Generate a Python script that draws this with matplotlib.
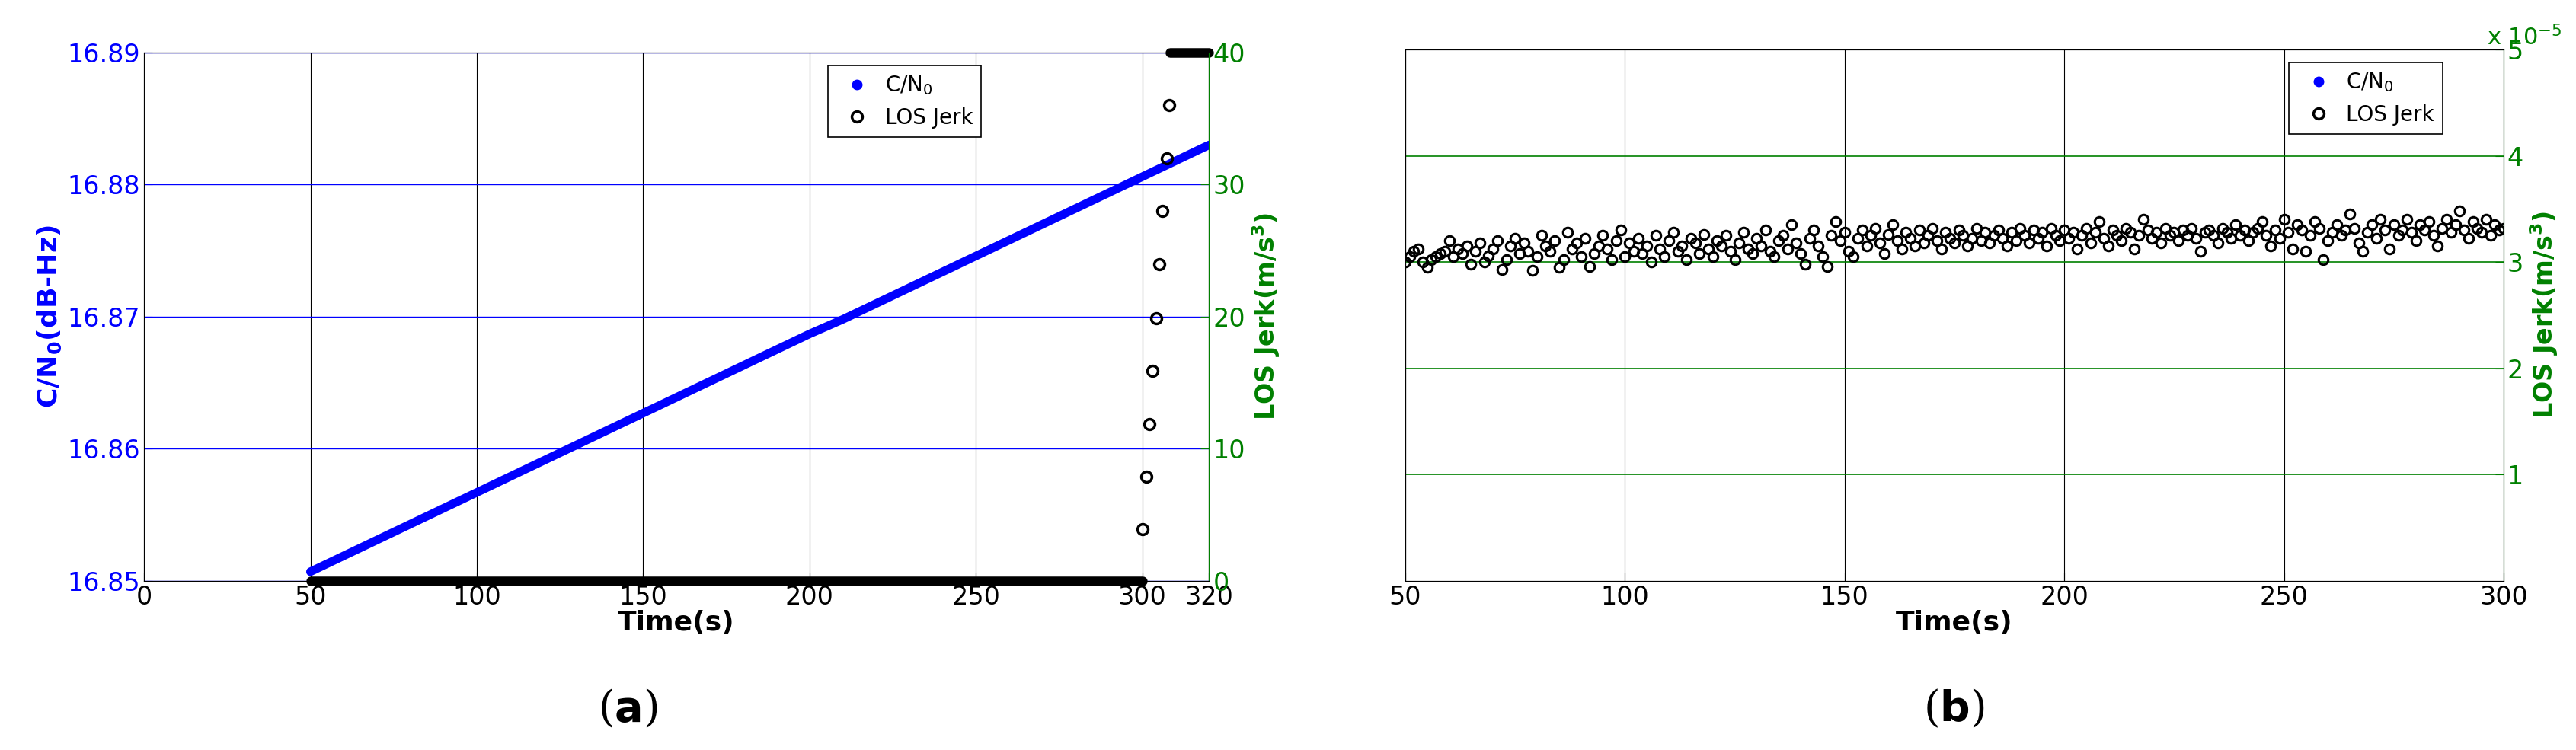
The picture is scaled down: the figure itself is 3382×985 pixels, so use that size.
import numpy as np
import matplotlib as mpl
mpl.use("Agg")
from matplotlib import pyplot as plt
from matplotlib.lines import Line2D

# ---- data: panel (a)
cn0_t    = [50, 60, 70, 80, 90, 100, 110, 120, 130, 140, 150, 160, 170, 180, 190,
            200, 210, 220, 230, 240, 250, 260, 270, 280, 290, 300, 310, 320]
cn0_val  = [16.8507, 16.8519, 16.8531, 16.8543, 16.8555, 16.8567, 16.8579, 16.8591,
            16.8603, 16.8615, 16.8627, 16.8639, 16.8651, 16.8663, 16.8675, 16.8687,
            16.8698, 16.8710, 16.8722, 16.8734, 16.8746, 16.8758, 16.8770, 16.8782,
            16.8794, 16.8806, 16.8818, 16.8830]
jerk_flat_t   = [50, 300]
jerk_flat_val = [0, 0]
jerk_ramp_t   = [300.1, 301.3, 302.1, 303.0, 304.1, 305.1, 306.0, 307.3, 308.0]
jerk_ramp_val = [3.9, 7.9, 11.9, 15.9, 19.9, 24.0, 28.0, 32.0, 36.0]
jerk_sat_t    = [308.3, 320]
jerk_sat_val  = [40, 40]

# ---- data: panel (b), LOS jerk in units of 1e-5 m/s^3, one sample per second from t=50
jerk_b = [
    3.00,3.05,3.10,3.12,3.00,2.95,3.02,3.05,3.08,3.10,3.20,3.05,3.12,3.08,3.15,2.98,3.10,3.18,3.00,3.06,3.12,3.20,2.93,3.02,3.15,
    3.22,3.08,3.18,3.10,2.92,3.05,3.25,3.15,3.10,3.20,2.95,3.02,3.28,3.12,3.18,3.05,3.22,2.96,3.08,3.15,3.25,3.12,3.02,3.20,3.30,
    3.05,3.18,3.10,3.22,3.08,3.15,3.00,3.25,3.12,3.05,3.20,3.28,3.10,3.15,3.02,3.22,3.18,3.08,3.26,3.12,3.05,3.20,3.15,3.25,3.10,
    3.02,3.18,3.28,3.12,3.08,3.22,3.15,3.30,3.10,3.05,3.20,3.25,3.12,3.35,3.18,3.08,2.98,3.22,3.30,3.15,3.05,2.96,3.25,3.38,3.20,
    3.28,3.10,3.05,3.22,3.30,3.15,3.25,3.32,3.18,3.08,3.26,3.35,3.20,3.12,3.28,3.22,3.15,3.30,3.18,3.25,3.32,3.20,3.12,3.28,3.22,
    3.18,3.30,3.25,3.15,3.22,3.32,3.20,3.28,3.18,3.25,3.30,3.22,3.15,3.28,3.20,3.32,3.25,3.18,3.30,3.22,3.28,3.15,3.32,3.25,3.20,
    3.30,3.22,3.28,3.12,3.25,3.32,3.18,3.28,3.38,3.22,3.15,3.30,3.25,3.20,3.32,3.28,3.12,3.25,3.40,3.30,3.22,3.28,3.18,3.32,3.25,
    3.28,3.20,3.30,3.25,3.32,3.22,3.10,3.28,3.30,3.25,3.18,3.32,3.28,3.22,3.35,3.25,3.30,3.20,3.28,3.32,3.38,3.25,3.15,3.30,3.22,
    3.40,3.28,3.12,3.35,3.30,3.10,3.25,3.38,3.32,3.02,3.20,3.28,3.35,3.25,3.30,3.45,3.32,3.18,3.10,3.28,3.35,3.22,3.40,3.30,3.12,
    3.35,3.25,3.30,3.40,3.28,3.20,3.35,3.30,3.38,3.25,3.15,3.32,3.40,3.28,3.35,3.48,3.30,3.22,3.38,3.32,3.28,3.40,3.25,3.35,3.30,3.32]
jerk_b_t = 50 + np.arange(len(jerk_b))

green = '#008000'
fs    = 24

fig = plt.figure(figsize=(33.82, 9.85), dpi=100)

def legend_handles():
    return [Line2D([], [], ls='none', marker='o', mfc='blue', mec='blue', ms=9),
            Line2D([], [], ls='none', marker='o', mfc='none', mec='black', mew=2.5, ms=10)]

def add_legend(ax, x0):
    leg = ax.legend(legend_handles(), ['C/N$_0$', 'LOS Jerk'], loc='upper left',
                    bbox_to_anchor=(x0, 0.995), fontsize=20, fancybox=False,
                    edgecolor='black', framealpha=1, borderpad=0.4, handletextpad=0.3)
    leg.get_frame().set_linewidth(1.2)

# ---- panel (a)
ax  = fig.add_axes([0.0559, 0.2254, 0.4134, 0.7046])
ax.plot(cn0_t, cn0_val, color='blue', lw=8, solid_capstyle='round', zorder=3)
ax.set_xlim(0, 320)
ax.set_ylim(16.85, 16.89)
ax.set_xticks([0, 50, 100, 150, 200, 250, 300, 320])
ax.set_yticks([16.85, 16.86, 16.87, 16.88, 16.89])
ax.yaxis.set_major_formatter(mpl.ticker.FormatStrFormatter('%.2f'))
ax.tick_params(axis='x', labelsize=fs, colors='black', direction='in', length=8)
ax.tick_params(axis='y', labelsize=fs, colors='blue', direction='in', length=8)
ax.grid(axis='x', color='black', lw=0.8)
ax.grid(axis='y', color='blue', lw=1.0)
ax.set_xlabel('Time(s)', fontsize=fs+2, fontweight='bold', labelpad=0)
ax.set_ylabel('C/N$_\\mathbf{0}$(dB-Hz)', fontsize=fs+2, fontweight='bold', color='blue')

ax2 = ax.twinx()
ax2.plot(jerk_flat_t, jerk_flat_val, color='black', lw=9, solid_capstyle='round', clip_on=False)
ax2.plot(jerk_ramp_t, jerk_ramp_val, ls='none', marker='o', mfc='none', mec='black',
         mew=2.5, ms=10, clip_on=False)
ax2.plot(jerk_sat_t, jerk_sat_val, color='black', lw=9, solid_capstyle='round', clip_on=False)
ax2.set_ylim(0, 40)
ax2.set_yticks([0, 10, 20, 30, 40])
ax2.tick_params(axis='y', labelsize=fs, colors=green, direction='in', length=8, pad=4)
ax2.spines['right'].set_color(green)
ax2.set_ylabel('LOS Jerk(m/s$^\\mathbf{3}$)', fontsize=fs, fontweight='bold', color=green)
add_legend(ax2, 0.632)

# ---- panel (b)
bx  = fig.add_axes([0.5455, 0.2254, 0.4264, 0.7086])
bx.set_xlim(50, 300)
bx.set_xticks([50, 100, 150, 200, 250, 300])
bx.set_yticks([])
bx.tick_params(axis='x', labelsize=fs, direction='in', length=8)
bx.grid(axis='x', color='black', lw=0.8)
bx.set_xlabel('Time(s)', fontsize=fs+2, fontweight='bold', labelpad=0)

bx2 = bx.twinx()
bx2.plot(jerk_b_t, jerk_b, ls='none', marker='o', mfc='none',
         mec='black', mew=2.2, ms=9)
bx2.set_ylim(0, 5)
bx2.set_yticks([1, 2, 3, 4, 5])
bx2.tick_params(axis='y', labelsize=fs, colors=green, direction='in', length=8)
bx2.spines['right'].set_color(green)
bx2.grid(axis='y', color=green, lw=1.2)
bx2.set_ylabel('LOS Jerk(m/s$^\\mathbf{3}$)', fontsize=fs, fontweight='bold', color=green)
bx2.text(0.985, 1.0, 'x 10$^{-5}$', transform=bx2.transAxes, fontsize=fs-2,
         color=green, ha='left', va='bottom')
add_legend(bx2, 0.795)

fig.text(0.2437, 0.054, '($\\mathbf{a}$)', fontsize=40, family='DejaVu Serif', ha='center', va='center')
fig.text(0.7584, 0.054, '($\\mathbf{b}$)', fontsize=40, family='DejaVu Serif', ha='center', va='center')

fig.savefig('out.png', dpi=100)
